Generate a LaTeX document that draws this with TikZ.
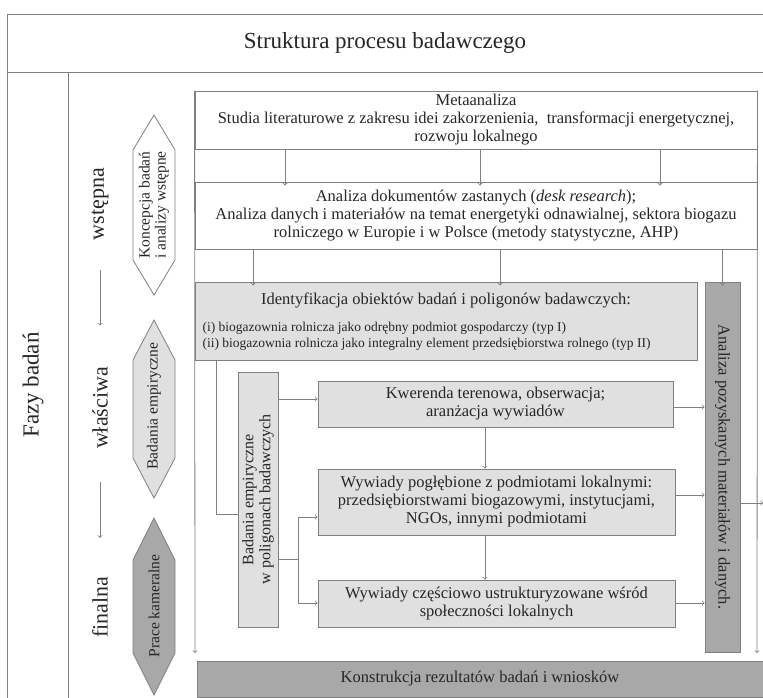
\documentclass[tikz,border=0pt]{standalone}
\usepackage{fontspec}
\setmainfont{Liberation Serif}
\usetikzlibrary{arrows}
\definecolor{lgray}{gray}{0.88}
\definecolor{dgray}{gray}{0.66}
\definecolor{lncol}{gray}{0.5}
\definecolor{txtcol}{gray}{0.15}
\tikzset{%
    mainbox/.style={draw=lncol,line width=0.9pt,inner sep=2pt,align=center,text=txtcol,font=\fontsize{16.5}{18}\selectfont},
    lbox/.style={mainbox,fill=lgray},
    dbox/.style={mainbox,fill=dgray},
    ln/.style={draw=lncol,line width=0.8pt},
    arr/.style={ln,->,>=to},
    phase/.style={rotate=90,text=txtcol,font=\fontsize{22}{24}\selectfont},
    tag/.style={rotate=90,align=center,text=txtcol,font=\fontsize{15.5}{16}\selectfont}
}

\begin{document}
\begin{tikzpicture}[x=1pt,y=-1pt]
    \useasboundingbox (0,0) rectangle (763,698);

    % frame
    \draw[ln] (7,698) -- (7,14) -- (763,14);
    \draw[ln] (7,72) -- (763,72);
    \draw[ln] (68,72) -- (68,698);
    \node[text=txtcol,font=\fontsize{23}{24}\selectfont] (title) at (385,43) {Struktura procesu badawczego};
    \node[phase,font=\fontsize{23}{24}\selectfont] (fazy) at (33,385) {Fazy badań};

    % phases
    \node[phase] (wst) at (100,204) {wstępna};
    \node[phase] (wla) at (100,408) {właściwa};
    \node[phase] (fin) at (100,607) {finalna};
    \draw[arr,shorten <=26pt,shorten >=38pt] (wst) -- (wla);
    \draw[arr,shorten <=30pt,shorten >=35pt] (wla) -- (fin);

    % stage shapes
    \draw[ln,fill=white] (154,115) -- (175,150) -- (175,260) -- (154,295) -- (133,260) -- (133,150) -- cycle;
    \draw[ln,fill=lgray] (154,320) -- (175,360) -- (175,458) -- (154,498) -- (133,458) -- (133,360) -- cycle;
    \draw[ln,fill=dgray] (154,518) -- (175,560) -- (175,653) -- (154,695) -- (133,653) -- (133,560) -- cycle;
    \node[tag] (konc) at (154,205) {Koncepcja badań\\i analizy wstępne};
    \node[tag] (bademp) at (154,406) {Badania empiryczne};
    \node[tag] (prace) at (154,606) {Prace kameralne};

    % boxes
    \node[mainbox,minimum width=562pt,minimum height=58pt] (meta) at (476,120)
        {Metaanaliza\\Studia literaturowe z zakresu idei zakorzenienia,\ \ transformacji energetycznej,\\rozwoju lokalnego};
    \node[mainbox,minimum width=562pt,minimum height=67pt] (desk) at (476,215.5)
        {Analiza dokumentów zastanych (\textit{desk research});\\Analiza danych i materiałów na temat energetyki odnawialnej, sektora biogazu\\rolniczego w Europie i w Polsce (metody statystyczne, AHP)};
    \node[lbox,minimum width=502pt,minimum height=78pt] (ident) at (446,321) {};
    \node[text=txtcol,font=\fontsize{16.5}{18}\selectfont] (identtitle) at (446,300)
        {Identyfikacja obiektów badań i poligonów badawczych:};
    \node[anchor=west,align=left,text=txtcol,font=\fontsize{13.5}{16}\selectfont] (identtypes) at (199,336)
        {(i) biogazownia rolnicza jako odrębny podmiot gospodarczy (typ I)\\(ii) biogazownia rolnicza jako integralny element przedsiębiorstwa rolnego (typ II)};
    \node[dbox,rotate=-90,minimum width=370pt,minimum height=35pt] (anal) at (722.5,467)
        {Analiza pozyskanych materiałów i danych.};
    \node[lbox,rotate=90,minimum width=255pt,minimum height=40pt,font=\fontsize{16}{17}\selectfont] (empir) at (258,499.5)
        {Badania empiryczne\\w poligonach badawczych};
    \node[lbox,minimum width=355pt,minimum height=46pt] (kwer) at (495.5,404)
        {Kwerenda terenowa, obserwacja;\\aranżacja wywiadów};
    \node[lbox,minimum width=357pt,minimum height=66pt] (wyw1) at (496.5,502)
        {Wywiady pogłębione z podmiotami lokalnymi:\\przedsiębiorstwami biogazowymi, instytucjami,\\NGOs, innymi podmiotami};
    \node[lbox,minimum width=357pt,minimum height=47pt] (wyw2) at (496.5,603.5)
        {Wywiady częściowo ustrukturyzowane wśród\\społeczności lokalnych};
    \node[dbox,minimum width=566pt,minimum height=36pt] (konstr) at (480,679)
        {Konstrukcja rezultatów badań i wniosków};

    % connectors
    \foreach \x in {285,480,660}{
        \coordinate (c) at (\x,0);
        \draw[arr] (meta.south -| c) -- ([yshift=-4pt]desk.north -| c);
    }
    \foreach \x in {253,500}{
        \coordinate (c) at (\x,0);
        \draw[arr] (desk.south -| c) -- ([yshift=-4pt]ident.north -| c);
    }
    \draw[arr] (desk.south -| anal.west) -- ([yshift=-4pt]anal.west);
    \coordinate (lbot) at (195,653);
    \coordinate (rbot) at (757,653);
    \draw[arr] (meta.north west) -- (lbot);
    \draw[arr] (meta.north east) -- (rbot);

    \coordinate (split) at (216,514);
    \draw[ln] (ident.south -| split) -- (split) -- (split -| empir.north);
    \coordinate (k) at (0,399);
    \draw[arr] (empir.south |- k) -- (kwer.west |- k);
    \coordinate (fork) at (298,559);
    \coordinate (f1) at (298,517);
    \coordinate (f2) at (298,603);
    \draw[ln] (empir.south |- fork) -- (fork);
    \draw[arr] (fork) |- (f1 -| wyw1.west);
    \draw[arr] (fork) |- (f2 -| wyw2.west);

    \coordinate (d1) at (485,0);
    \draw[arr] (kwer.south -| d1) -- (wyw1.north -| d1);
    \draw[arr] (wyw1.south -| d1) -- (wyw2.north -| d1);
    \coordinate (e1) at (0,407);
    \coordinate (e2) at (0,495);
    \coordinate (e3) at (0,603);
    \draw[arr] (kwer.east |- e1) -- (anal.south |- e1);
    \draw[arr] (wyw1.east |- e2) -- (anal.south |- e2);
    \draw[arr] (wyw2.east |- e3) -- (anal.south |- e3);
    \coordinate (out) at (763,503);
    \draw[arr] (anal.north |- out) -- (out);
\end{tikzpicture}
\end{document}
